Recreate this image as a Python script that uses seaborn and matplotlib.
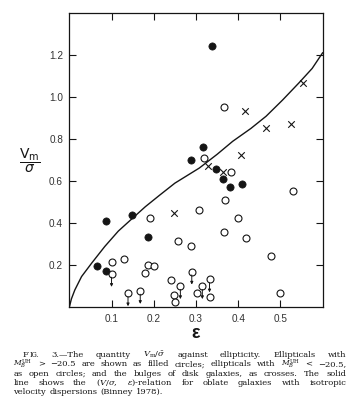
import matplotlib
matplotlib.use('Agg')
import matplotlib.pyplot as plt
import seaborn as sns

# ellipticals, bright-ish (filled circles)
filled_eps = [0.066, 0.087, 0.088, 0.149, 0.187, 0.289, 0.316, 0.337, 0.347, 0.365, 0.380, 0.408]
filled_v = [0.198, 0.174, 0.411, 0.440, 0.333, 0.701, 0.762, 1.243, 0.659, 0.611, 0.571, 0.586]

# ellipticals, luminous (open circles)
open_eps = [0.100, 0.130, 0.179, 0.186, 0.200, 0.190, 0.240, 0.249, 0.251, 0.257, 0.289, 0.302,
            0.308, 0.318, 0.366, 0.367, 0.368, 0.382, 0.399, 0.418, 0.477, 0.499, 0.530]
open_v = [0.217, 0.229, 0.165, 0.200, 0.198, 0.422, 0.130, 0.059, 0.027, 0.314, 0.290, 0.067,
          0.463, 0.710, 0.952, 0.359, 0.508, 0.643, 0.424, 0.328, 0.246, 0.070, 0.551]

# open circles that are upper limits (drawn with arrow)
lim_eps = [0.100, 0.139, 0.168, 0.263, 0.290, 0.315, 0.332, 0.332]
lim_v = [0.159, 0.067, 0.078, 0.101, 0.170, 0.101, 0.133, 0.050]

# bulges (crosses)
cross_eps = [0.247, 0.329, 0.363, 0.406, 0.415, 0.466, 0.524, 0.554]
cross_v = [0.450, 0.673, 0.643, 0.725, 0.931, 0.854, 0.870, 1.068]

# isotropic oblate rotator line
curve_eps = [0.0, 0.005, 0.013, 0.029, 0.053, 0.084, 0.116, 0.149, 0.180, 0.214, 0.250, 0.308,
             0.350, 0.387, 0.430, 0.466, 0.505, 0.544, 0.575, 0.6]
curve_v = [0.0, 0.040, 0.082, 0.146, 0.210, 0.289, 0.362, 0.422, 0.478, 0.533, 0.590, 0.662,
           0.727, 0.789, 0.850, 0.908, 0.985, 1.067, 1.135, 1.21]

xticks = [0.1, 0.2, 0.3, 0.4, 0.5]
xticklabels = ['0.1', '0.2', '0.3', '0.4', '0.5']
yticks = [0.2, 0.4, 0.6, 0.8, 1.0, 1.2]
yticklabels = ['0.2', '0.4', '0.6', '0.8', '1.0', '1.2']

cap_size = 6.0
sub_size = 5.4
caption_lines = [
    [[('F', cap_size), ('IG.', 4.7)], '3.\u2014The', 'quantity', r'$V_{\rm m}/\bar{\sigma}$', 'against',
     'ellipticity.', 'Ellipticals', 'with'],
    [[(r'$M_B^{\rm UH}$', sub_size)], '>', '\u221220.5', 'are', 'shown', 'as', 'filled', 'circles;',
     'ellipticals', 'with', [(r'$M_B^{\rm UH}$', sub_size)], '<', '\u221220.5,'],
    ['as', 'open', 'circles;', 'and', 'the', 'bulges', 'of', 'disk', 'galaxies,', 'as', 'crosses.',
     'The', 'solid'],
    ['line', 'shows', 'the', r'($V/\sigma$,', r'$\epsilon$)-relation', 'for', 'oblate', 'galaxies',
     'with', 'isotropic'],
    ['velocity', 'dispersions', '(Binney', '1978).'],
]

W, H = 351, 413
ink = '#151515'

sns.set_style('ticks')
plt.rcParams['font.family'] = ['Liberation Sans', 'DejaVu Sans']
plt.rcParams['mathtext.fontset'] = 'dejavuserif'

fig = plt.figure(figsize=(W / 100, H / 100), dpi=100)
ax = fig.add_axes([69.3 / W, (H - 307.3) / H, (322.7 - 69.3) / W, (307.3 - 12.7) / H])

sns.lineplot(x=curve_eps, y=curve_v, ax=ax, color=ink, lw=1.0, sort=False, estimator=None)
sns.scatterplot(x=filled_eps, y=filled_v, ax=ax, marker='o', s=27, color=ink, edgecolor=ink,
                linewidth=0.5, zorder=3)
sns.scatterplot(x=open_eps + lim_eps, y=open_v + lim_v, ax=ax, marker='o', s=25, color='white',
                edgecolor=ink, linewidth=0.8, zorder=3)
sns.scatterplot(x=cross_eps, y=cross_v, ax=ax, marker='x', s=22, color=ink, linewidth=0.8, zorder=3)

for x, y in zip(lim_eps, lim_v):
    ax.annotate('', xy=(x, y - 0.062), xytext=(x, y - 0.016),
                arrowprops=dict(arrowstyle='-|>', color=ink, lw=0.7, mutation_scale=4,
                                shrinkA=0, shrinkB=0))

ax.set_xlim(0, 0.6)
ax.set_ylim(0, 1.4)
ax.set_xticks(xticks)
ax.set_xticklabels(xticklabels)
ax.set_yticks(yticks)
ax.set_yticklabels(yticklabels)
ax.set_xlabel('')
ax.set_ylabel('')
ax.tick_params(direction='in', top=True, right=True, length=4.8, width=0.8, labelsize=7.2,
               pad=4.5, color=ink, labelcolor='#333333')
for sp in ax.spines.values():
    sp.set_linewidth(0.9)
    sp.set_color(ink)

fig.text(30 / W, 1 - 161 / H, r'$\dfrac{\mathrm{V_m}}{\sigma}$', math_fontfamily='dejavusans',
         fontsize=10, ha='center', va='center', color=ink)
fig.text(196 / W, 1 - 334 / H, '\u03b5', fontsize=13, fontweight='bold', ha='center',
         va='center', color=ink)

# caption, set word by word so lines are justified like the printed page
fig.canvas.draw()
r = fig.canvas.get_renderer()


def place_line(words, base_px, x0, x1, justify=True):
    items = []
    for w in words:
        parts = w if isinstance(w, list) else [(w, cap_size)]
        arts = []
        wid = 0
        for s, fs in parts:
            t = fig.text(0, 1 - base_px / H, s, fontsize=fs, family='DejaVu Serif',
                         va='baseline', ha='left', color=ink)
            bw = t.get_window_extent(r).width + 0.6
            arts.append((t, bw))
            wid += bw
        items.append((arts, wid))
    total = sum(wd for _, wd in items)
    gap = (x1 - x0 - total) / (len(items) - 1) if justify else 2.6
    x = x0
    for arts, wd in items:
        for t, bw in arts:
            t.set_x(x / W)
            x += bw
        x += gap


baselines = [357, 366.3, 375.6, 384.7, 393.8]
for i, words in enumerate(caption_lines):
    x0 = 22.7 if i == 0 else 13.3
    place_line(words, baselines[i], x0, 346.7, justify=(i < len(caption_lines) - 1))

fig.savefig('out.png', dpi=100)
